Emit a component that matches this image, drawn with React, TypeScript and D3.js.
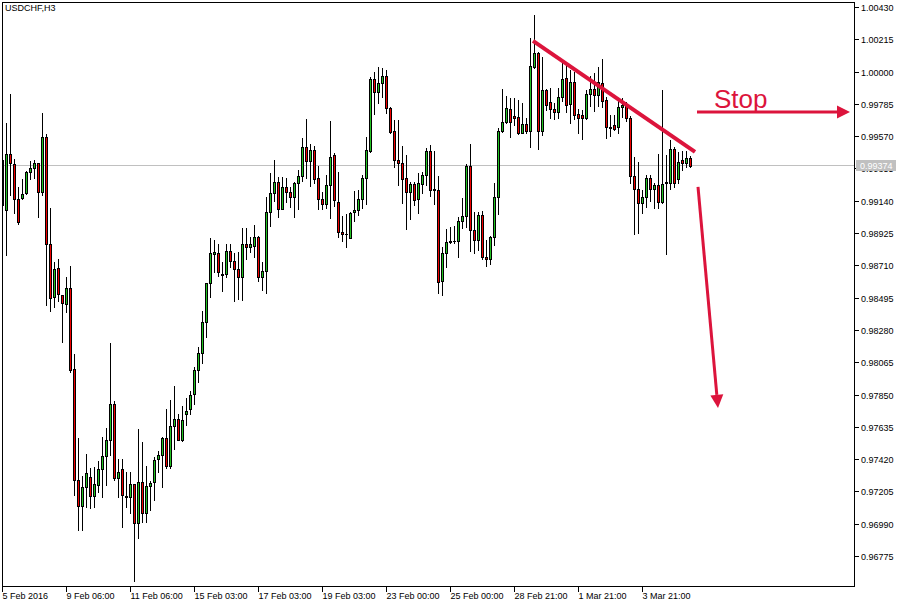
import React from 'react';
import * as d3 from 'd3';

const symbolTitle = 'USDCHF,H3';

// H3 bars, oldest first
const opens = [
  0.99112, 0.99079, 0.99451, 0.99385, 0.99152, 0.99159, 0.99192, 0.99332, 0.99359, 0.99392,
  0.99199, 0.99564, 0.98852, 0.98499, 0.98693, 0.98513, 0.98453, 0.98560, 0.98020, 0.97281,
  0.97108, 0.97234, 0.97301, 0.97175, 0.97248, 0.97354, 0.97441, 0.97548, 0.97787, 0.97295,
  0.97354, 0.97175, 0.97168, 0.97254, 0.96995, 0.97268, 0.97062, 0.97241, 0.97268, 0.97421,
  0.97448, 0.97561, 0.97374, 0.97641, 0.97687, 0.97548, 0.97720, 0.97754, 0.97853, 0.98014,
  0.98127, 0.98333, 0.98593, 0.98786, 0.98793, 0.98649, 0.98652, 0.98806, 0.98739, 0.98686,
  0.98632, 0.98852, 0.98832, 0.98839, 0.98899, 0.98632, 0.98672, 0.99066, 0.99192, 0.99266,
  0.99085, 0.99232, 0.99199, 0.99165, 0.99259, 0.99305, 0.99498, 0.99405, 0.99478, 0.99292,
  0.99152, 0.99118, 0.99246, 0.99445, 0.99132, 0.98933, 0.98922, 0.98893, 0.99066, 0.99079,
  0.99152, 0.99292, 0.99471, 0.99951, 0.99865, 0.99924, 0.99971, 0.99758, 0.99604, 0.99412,
  0.99392, 0.99292, 0.99199, 0.99252, 0.99152, 0.99252, 0.99312, 0.99471, 0.99215, 0.99212,
  0.98606, 0.98793, 0.98866, 0.98870, 0.98872, 0.99005, 0.99039, 0.99372, 0.98946, 0.98879,
  0.99046, 0.98766, 0.98753, 0.98899, 0.99165, 0.99604, 0.99665, 0.99751, 0.99705, 0.99698,
  0.99591, 0.99651, 0.99604, 1.00031, 1.00124, 0.99604, 0.99878, 0.99798, 0.99751, 0.99732,
  0.99831, 0.99958, 0.99784, 0.99931, 0.99718, 0.99712, 0.99692, 0.99851, 0.99884, 0.99845,
  0.99924, 0.99811, 0.99631, 0.99645, 0.99631, 0.99764, 0.99778, 0.99692, 0.99305, 0.99219,
  0.99125, 0.99165, 0.99292, 0.99219, 0.99246, 0.99132, 0.99255, 0.99259, 0.99485, 0.99285,
  0.99412, 0.99392, 0.99425,
];
const highs = [
  0.99478, 0.99658, 0.99851, 0.99418, 0.99232, 0.99285, 0.99338, 0.99405, 0.99412, 0.99392,
  0.99725, 0.99584, 0.99092, 0.98733, 0.98753, 0.98513, 0.98632, 0.98706, 0.98120, 0.97561,
  0.97308, 0.97454, 0.97361, 0.97367, 0.97407, 0.97567, 0.97628, 0.98193, 0.97807, 0.97421,
  0.97421, 0.97335, 0.97335, 0.97254, 0.97621, 0.97535, 0.97374, 0.97274, 0.97434, 0.97474,
  0.97567, 0.97754, 0.97814, 0.97907, 0.97720, 0.97774, 0.97827, 0.97873, 0.98033, 0.98166,
  0.98406, 0.98593, 0.98893, 0.98879, 0.98852, 0.98733, 0.98852, 0.98852, 0.98793, 0.98800,
  0.98959, 0.98959, 0.98899, 0.98979, 0.98906, 0.98733, 0.99165, 0.99325, 0.99412, 0.99298,
  0.99298, 0.99292, 0.99232, 0.99266, 0.99345, 0.99558, 0.99685, 0.99518, 0.99505, 0.99372,
  0.99199, 0.99312, 0.99671, 0.99458, 0.99332, 0.99039, 0.99052, 0.99066, 0.99205, 0.99212,
  0.99312, 0.99564, 0.99964, 0.99998, 1.00031, 1.00025, 1.00011, 0.99764, 0.99678, 0.99678,
  0.99505, 0.99445, 0.99266, 0.99266, 0.99325, 0.99332, 0.99492, 0.99512, 0.99471, 0.99305,
  0.98832, 0.98952, 0.98965, 0.98972, 0.99032, 0.99159, 0.99385, 0.99518, 0.99066, 0.99066,
  0.99072, 0.98879, 0.98906, 0.99259, 0.99625, 0.99884, 0.99838, 0.99825, 0.99825, 0.99811,
  0.99791, 0.99692, 1.00224, 1.00377, 1.00131, 1.00097, 0.99884, 0.99891, 0.99791, 0.99891,
  1.00065, 1.00065, 1.00011, 0.99998, 0.99751, 0.99745, 0.99878, 0.99971, 0.99991, 1.00031,
  1.00084, 0.99831, 0.99712, 0.99712, 0.99811, 0.99825, 0.99798, 0.99705, 0.99431, 0.99399,
  0.99212, 0.99312, 0.99312, 0.99259, 0.99451, 0.99878, 0.99445, 0.99545, 0.99498, 0.99465,
  0.99471, 0.99471, 0.99438,
];
const lows = [
  0.99046, 0.98780, 0.99179, 0.99059, 0.98985, 0.99152, 0.99185, 0.99285, 0.99292, 0.99032,
  0.99179, 0.98447, 0.98406, 0.98433, 0.98473, 0.98200, 0.98400, 0.98001, 0.97182, 0.96948,
  0.96948, 0.97101, 0.97095, 0.97101, 0.97202, 0.97168, 0.97248, 0.97448, 0.97281, 0.97168,
  0.96968, 0.97101, 0.97062, 0.96609, 0.96895, 0.97002, 0.97002, 0.97082, 0.97148, 0.97335,
  0.97234, 0.97361, 0.97361, 0.97488, 0.97548, 0.97541, 0.97648, 0.97720, 0.97787, 0.97934,
  0.98060, 0.98233, 0.98499, 0.98666, 0.98639, 0.98539, 0.98632, 0.98699, 0.98473, 0.98486,
  0.98480, 0.98753, 0.98800, 0.98766, 0.98606, 0.98546, 0.98526, 0.98972, 0.99138, 0.99032,
  0.99085, 0.99132, 0.99098, 0.99032, 0.99085, 0.99272, 0.99292, 0.99239, 0.99259, 0.99085,
  0.99085, 0.99092, 0.99026, 0.99105, 0.98899, 0.98872, 0.98832, 0.98893, 0.99005, 0.99046,
  0.99092, 0.99118, 0.99465, 0.99718, 0.99791, 0.99831, 0.99725, 0.99591, 0.99365, 0.99246,
  0.99125, 0.98952, 0.99019, 0.99112, 0.99059, 0.99192, 0.99246, 0.99172, 0.99118, 0.98526,
  0.98513, 0.98699, 0.98859, 0.98859, 0.98766, 0.98959, 0.98965, 0.98806, 0.98793, 0.98813,
  0.98753, 0.98706, 0.98719, 0.98846, 0.99052, 0.99598, 0.99658, 0.99564, 0.99645, 0.99584,
  0.99591, 0.99591, 0.99498, 1.00025, 0.99485, 0.99578, 0.99745, 0.99692, 0.99685, 0.99692,
  0.99804, 0.99732, 0.99658, 0.99685, 0.99591, 0.99551, 0.99685, 0.99771, 0.99738, 0.99771,
  0.99764, 0.99558, 0.99571, 0.99611, 0.99591, 0.99698, 0.99671, 0.99259, 0.98919, 0.98926,
  0.99059, 0.99098, 0.99138, 0.99092, 0.99092, 0.99125, 0.98786, 0.99219, 0.99232, 0.99259,
  0.99345, 0.99365, 0.99365,
];
const closes = [
  0.99412, 0.99451, 0.99392, 0.99152, 0.98999, 0.99185, 0.99332, 0.99359, 0.99392, 0.99199,
  0.99564, 0.98852, 0.98493, 0.98686, 0.98519, 0.98460, 0.98560, 0.98014, 0.97281, 0.97108,
  0.97234, 0.97328, 0.97175, 0.97254, 0.97354, 0.97441, 0.97548, 0.97787, 0.97295, 0.97335,
  0.97182, 0.97168, 0.97254, 0.96995, 0.97268, 0.97062, 0.97241, 0.97261, 0.97414, 0.97448,
  0.97561, 0.97374, 0.97641, 0.97687, 0.97548, 0.97681, 0.97740, 0.97847, 0.98014, 0.98127,
  0.98333, 0.98593, 0.98793, 0.98799, 0.98666, 0.98655, 0.98806, 0.98739, 0.98686, 0.98632,
  0.98852, 0.98832, 0.98852, 0.98899, 0.98632, 0.98672, 0.99066, 0.99192, 0.99266, 0.99085,
  0.99232, 0.99199, 0.99165, 0.99259, 0.99305, 0.99498, 0.99405, 0.99478, 0.99285, 0.99152,
  0.99118, 0.99246, 0.99431, 0.99145, 0.98933, 0.98919, 0.98916, 0.99059, 0.99079, 0.99152,
  0.99292, 0.99478, 0.99951, 0.99865, 0.99924, 0.99971, 0.99758, 0.99598, 0.99412, 0.99392,
  0.99285, 0.99199, 0.99252, 0.99145, 0.99259, 0.99312, 0.99471, 0.99212, 0.99209, 0.98600,
  0.98793, 0.98866, 0.98872, 0.98874, 0.99005, 0.99039, 0.99372, 0.98946, 0.98879, 0.99046,
  0.98766, 0.98753, 0.98899, 0.99165, 0.99604, 0.99665, 0.99758, 0.99665, 0.99692, 0.99591,
  0.99651, 0.99604, 1.00038, 1.00124, 0.99604, 0.99878, 0.99778, 0.99751, 0.99732, 0.99831,
  0.99951, 0.99778, 0.99931, 0.99712, 0.99692, 0.99692, 0.99851, 0.99884, 0.99845, 0.99931,
  0.99804, 0.99631, 0.99625, 0.99618, 0.99764, 0.99778, 0.99692, 0.99305, 0.99219, 0.99125,
  0.99165, 0.99292, 0.99219, 0.99246, 0.99132, 0.99252, 0.99262, 0.99485, 0.99259, 0.99399,
  0.99392, 0.99425, 0.99374,
];

const priceTicks = [
  1.0043, 1.00215, 1.0, 0.99785, 0.9957, 0.99355, 0.9914, 0.98925, 0.9871,
  0.98495, 0.9828, 0.98065, 0.9785, 0.97635, 0.9742, 0.97205, 0.9699, 0.96775,
];
const timeTickBars = [0, 16, 32, 48, 64, 80, 96, 112, 128, 144, 160];
const timeTickLabels = [
  '5 Feb 2016', '9 Feb 06:00', '11 Feb 06:00', '15 Feb 03:00', '17 Feb 03:00',
  '19 Feb 03:00', '23 Feb 00:00', '25 Feb 00:00', '28 Feb 21:00', '1 Mar 21:00', '3 Mar 21:00',
];
const lastPrice = 0.99374;

// Hand-drawn analysis objects, positioned in (bar index, price)
const trendLine = [[132.75, 1.00204], [173.25, 0.99465]];
const stopArrow = [[173.75, 0.99731], [212, 0.99731]];
const stopLabel = { bar: 178, price: 0.99758, text: 'Stop' };
const dropArrow = [[174, 0.99232], [179, 0.97761]];

const W = 907;
const H = 608;
const FONT = "'Liberation Sans', Arial, sans-serif";
const MARK = '#dc143c';
const UP = '#22c322';
const DOWN = '#f00000';

const x = d3.scaleLinear().domain([0, opens.length - 1]).range([2, 690]);
const y = d3.scaleLinear().domain([0.96775, 1.0043]).range([556, 7]);
const py = (v: number) => Math.round(y(v));

function arrowHead(from: number[], to: number[], len: number, half: number) {
  const x1 = x(from[0]), y1 = y(from[1]);
  const x2 = x(to[0]), y2 = y(to[1]);
  const dx = x2 - x1, dy = y2 - y1;
  const d = Math.hypot(dx, dy);
  const ux = dx / d, uy = dy / d;
  const bx = x2 - ux * len, by = y2 - uy * len;
  const pts = [
    [x2, y2],
    [bx - uy * half, by + ux * half],
    [bx + uy * half, by - ux * half],
  ];
  return { points: pts.map((p) => p.join(',')).join(' '), bx, by, x1, y1 };
}

export default function App() {
  const lastY = Math.floor(y(lastPrice)) + 0.5;
  const stopHead = arrowHead(stopArrow[0], stopArrow[1], 13, 6.5);
  const dropHead = arrowHead(dropArrow[0], dropArrow[1], 13, 6.5);

  return (
    <svg
      width={W}
      height={H}
      viewBox={`0 0 ${W} ${H}`}
      style={{ position: 'fixed', left: 0, top: 0, background: '#fff', display: 'block' }}
    >
      <defs>
        <clipPath id="plot">
          <rect x={2} y={2} width={852} height={584} />
        </clipPath>
        {/* the last-price badge hides most of the tick label beneath it */}
        <clipPath id="underBadge">
          <rect x={855} y={lastY + 5.5} width={52} height={12} />
        </clipPath>
      </defs>
      <rect x={0} y={0} width={W} height={H} fill="#fff" />

      {/* last price line */}
      <line x1={3} x2={854} y1={lastY} y2={lastY} stroke="#c0c0c0" strokeWidth={1} />

      {/* candles */}
      <g clipPath="url(#plot)">
        {opens.map((o, i) => {
          const c = closes[i];
          const cx = Math.round(x(i));
          const top = py(Math.max(o, c));
          const bot = py(Math.min(o, c));
          const up = c >= o;
          return (
            <g key={i}>
              <line
                x1={cx + 0.5}
                x2={cx + 0.5}
                y1={py(highs[i])}
                y2={py(lows[i]) + 1}
                stroke="#000"
                strokeWidth={1}
              />
              {bot - top < 1 ? (
                <line x1={cx - 1} x2={cx + 2} y1={top + 0.5} y2={top + 0.5} stroke="#000" strokeWidth={1} />
              ) : (
                <rect
                  x={cx - 0.5}
                  y={top + 0.5}
                  width={2}
                  height={bot - top}
                  fill={up ? UP : DOWN}
                  stroke="#000"
                  strokeWidth={1}
                />
              )}
            </g>
          );
        })}
      </g>

      {/* frame */}
      <rect x={2.5} y={2.5} width={852} height={584} fill="none" stroke="#000" strokeWidth={1} />

      <text x={5} y={11} fontFamily={FONT} fontSize={9} fill="#000">
        {symbolTitle}
      </text>

      {/* price axis */}
      {priceTicks.map((v) => {
        const ty = py(v) + 0.5;
        const hidden = Math.abs(ty - lastY) < 8;
        return (
          <g key={v}>
            <line x1={855} x2={859} y1={ty} y2={ty} stroke="#000" />
            <text
              x={861}
              y={ty + 3.2}
              fontFamily={FONT}
              fontSize={9}
              fill="#000"
              clipPath={hidden ? 'url(#underBadge)' : undefined}
            >
              {v.toFixed(5)}
            </text>
          </g>
        );
      })}
      <rect x={856} y={lastY - 5.5} width={40} height={11} fill="#c0c0c0" />
      <text x={860} y={lastY + 3.5} fontFamily={FONT} fontSize={9} fill="#fff">
        {lastPrice.toFixed(5)}
      </text>

      {/* time axis */}
      {timeTickBars.map((b, k) => {
        const tx = Math.round(x(b)) + 0.5;
        return (
          <g key={b}>
            <line x1={tx} x2={tx} y1={587} y2={592} stroke="#000" />
            <text x={tx} y={599} fontFamily={FONT} fontSize={9} fill="#000">
              {timeTickLabels[k]}
            </text>
          </g>
        );
      })}

      {/* analysis drawings */}
      <line
        x1={x(trendLine[0][0])}
        y1={y(trendLine[0][1])}
        x2={x(trendLine[1][0])}
        y2={y(trendLine[1][1])}
        stroke={MARK}
        strokeWidth={4}
      />
      <line x1={stopHead.x1} y1={stopHead.y1} x2={stopHead.bx} y2={stopHead.by} stroke={MARK} strokeWidth={3} />
      <polygon points={stopHead.points} fill={MARK} />
      <text
        x={x(stopLabel.bar)}
        y={y(stopLabel.price)}
        fontFamily={FONT}
        fontSize={26}
        fill={MARK}
      >
        {stopLabel.text}
      </text>
      <line x1={dropHead.x1} y1={dropHead.y1} x2={dropHead.bx} y2={dropHead.by} stroke={MARK} strokeWidth={3} />
      <polygon points={dropHead.points} fill={MARK} />
    </svg>
  );
}
